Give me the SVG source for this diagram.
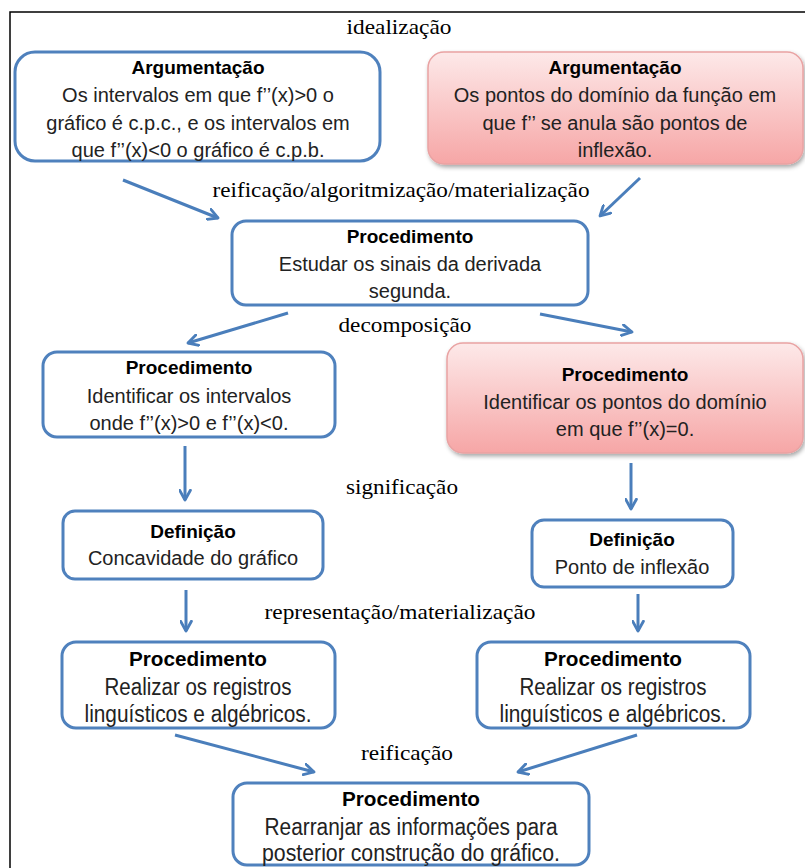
<svg xmlns="http://www.w3.org/2000/svg" width="805" height="868" viewBox="0 0 805 868">
  <style>
    .box { fill: #ffffff; stroke: #4f81bd; stroke-width: 3; }
    .hot { fill: url(#redFill); stroke: #e9a3a3; stroke-width: 1.5; filter: url(#shade); }
    .title { font-family: "Liberation Sans", Arial, sans-serif; font-weight: bold; font-size: 19px; fill: #000; text-anchor: middle; }
    .ctitle { font-family: "Liberation Sans", Arial, sans-serif; font-weight: bold; font-size: 21px; fill: #000; text-anchor: middle; }
    .body { font-family: "Liberation Sans", Arial, sans-serif; font-size: 20px; fill: #222; text-anchor: middle; }
    .cond { font-family: "Liberation Sans", Arial, sans-serif; font-size: 23px; fill: #222; text-anchor: middle; }
    .label { font-family: "Liberation Serif", "Times New Roman", serif; font-size: 22px; fill: #000; text-anchor: middle; }
    .arrow { stroke: #4a7ebb; stroke-width: 3; fill: none; marker-end: url(#head); }
  </style>
  <defs>
    <linearGradient id="redFill" x1="0" y1="0" x2="0" y2="1">
      <stop offset="0" stop-color="#fde9e9"/>
      <stop offset="1" stop-color="#f6a6a6"/>
    </linearGradient>
    <filter id="shade" x="-5%" y="-5%" width="115%" height="125%">
      <feDropShadow dx="1.5" dy="2.5" stdDeviation="2" flood-color="#000" flood-opacity="0.35"/>
    </filter>
    <marker id="head" viewBox="0 0 12 12" refX="10" refY="6" markerWidth="13" markerHeight="13" markerUnits="userSpaceOnUse" orient="auto">
      <path d="M1,1 L10,6 L1,11" fill="none" stroke="#4a7ebb" stroke-width="2.6" stroke-linecap="round" stroke-linejoin="round"/>
    </marker>
  </defs>

  <rect x="0" y="0" width="805" height="868" fill="#ffffff"/>
  <!-- outer frame -->
  <rect x="10" y="12" width="805" height="870" fill="none" stroke="#000" stroke-width="1.5"/>

  <!-- connector labels and arrows -->
  <g id="connectors">
    <text class="label" x="399" y="34" textLength="105" lengthAdjust="spacingAndGlyphs">idealização</text>
    <text class="label" x="401" y="197" textLength="377" lengthAdjust="spacingAndGlyphs">reificação/algoritmização/materialização</text>
    <text class="label" x="405" y="332" textLength="133" lengthAdjust="spacingAndGlyphs">decomposição</text>
    <text class="label" x="402" y="494" textLength="112" lengthAdjust="spacingAndGlyphs">significação</text>
    <text class="label" x="400" y="619" textLength="271" lengthAdjust="spacingAndGlyphs">representação/materialização</text>
    <text class="label" x="407" y="760" textLength="92" lengthAdjust="spacingAndGlyphs">reificação</text>

    <line class="arrow" x1="123" y1="180" x2="218" y2="218"/>
    <line class="arrow" x1="640" y1="178" x2="600" y2="216"/>
    <line class="arrow" x1="288" y1="313" x2="188" y2="343"/>
    <line class="arrow" x1="540" y1="314" x2="632" y2="332"/>
    <line class="arrow" x1="185" y1="446" x2="185" y2="500"/>
    <line class="arrow" x1="631" y1="463" x2="631" y2="509"/>
    <line class="arrow" x1="186" y1="590" x2="186" y2="631"/>
    <line class="arrow" x1="638" y1="594" x2="638" y2="631"/>
    <line class="arrow" x1="175" y1="735" x2="314" y2="772"/>
    <line class="arrow" x1="637" y1="735" x2="518" y2="772"/>
  </g>

  <!-- top left argument -->
  <g id="arg-concavity">
    <rect class="box" x="15" y="52" width="365" height="109" rx="20"/>
    <text class="title" x="198" y="74">Argumentação</text>
    <text class="body" x="198" y="102">Os intervalos em que f’’(x)&gt;0  o</text>
    <text class="body" x="198" y="130">gráfico é c.p.c., e os intervalos em</text>
    <text class="body" x="198" y="157">que f’’(x)&lt;0  o gráfico é c.p.b.</text>
  </g>

  <!-- top right argument -->
  <g id="arg-inflection">
    <rect class="hot" x="428" y="52" width="375" height="112" rx="16"/>
    <text class="title" x="615" y="74">Argumentação</text>
    <text class="body" x="615" y="102">Os pontos do domínio da função em</text>
    <text class="body" x="615" y="130">que f’’ se anula são pontos de</text>
    <text class="body" x="615" y="157">inflexão.</text>
  </g>

  <!-- central procedure -->
  <g id="proc-signs">
    <rect class="box" x="232" y="221" width="356" height="84" rx="14"/>
    <text class="title" x="410" y="243">Procedimento</text>
    <text class="body" x="410" y="271">Estudar os sinais da derivada</text>
    <text class="body" x="410" y="298">segunda.</text>
  </g>

  <!-- left procedure -->
  <g id="proc-intervals">
    <rect class="box" x="43" y="352" width="292" height="85" rx="14"/>
    <text class="title" x="189" y="374">Procedimento</text>
    <text class="body" x="189" y="403">Identificar os intervalos</text>
    <text class="body" x="189" y="430">onde f’’(x)&gt;0  e f’’(x)&lt;0.</text>
  </g>

  <!-- right procedure -->
  <g id="proc-points">
    <rect class="hot" x="447" y="343" width="356" height="110" rx="16"/>
    <text class="title" x="625" y="381">Procedimento</text>
    <text class="body" x="625" y="409">Identificar os pontos do domínio</text>
    <text class="body" x="625" y="436">em que f’’(x)=0.</text>
  </g>

  <!-- left definition -->
  <g id="def-concavity">
    <rect class="box" x="63" y="511" width="260" height="68" rx="12"/>
    <text class="title" x="193" y="538">Definição</text>
    <text class="body" x="193" y="565">Concavidade do gráfico</text>
  </g>

  <!-- right definition -->
  <g id="def-inflection">
    <rect class="box" x="532" y="520" width="201" height="67" rx="12"/>
    <text class="title" x="632" y="546">Definição</text>
    <text class="body" x="632" y="574">Ponto de inflexão</text>
  </g>

  <!-- left records -->
  <g id="proc-records-left">
    <rect class="box" x="62" y="642" width="273" height="86" rx="14"/>
    <text class="ctitle" x="198" y="666" textLength="138" lengthAdjust="spacingAndGlyphs">Procedimento</text>
    <text class="cond" x="198" y="695" textLength="187" lengthAdjust="spacingAndGlyphs">Realizar os registros</text>
    <text class="cond" x="198" y="722" textLength="227" lengthAdjust="spacingAndGlyphs">linguísticos e algébricos.</text>
  </g>

  <!-- right records -->
  <g id="proc-records-right">
    <rect class="box" x="477" y="642" width="273" height="86" rx="14"/>
    <text class="ctitle" x="613" y="666" textLength="138" lengthAdjust="spacingAndGlyphs">Procedimento</text>
    <text class="cond" x="613" y="695" textLength="187" lengthAdjust="spacingAndGlyphs">Realizar os registros</text>
    <text class="cond" x="613" y="722" textLength="227" lengthAdjust="spacingAndGlyphs">linguísticos e algébricos.</text>
  </g>

  <!-- final procedure -->
  <g id="proc-rearrange">
    <rect class="box" x="233" y="783" width="356" height="82" rx="14"/>
    <text class="ctitle" x="411" y="806" textLength="138" lengthAdjust="spacingAndGlyphs">Procedimento</text>
    <text class="cond" x="411" y="835" textLength="293" lengthAdjust="spacingAndGlyphs">Rearranjar as informações para</text>
    <text class="cond" x="411" y="861" textLength="298" lengthAdjust="spacingAndGlyphs">posterior construção do gráfico.</text>
  </g>
</svg>
